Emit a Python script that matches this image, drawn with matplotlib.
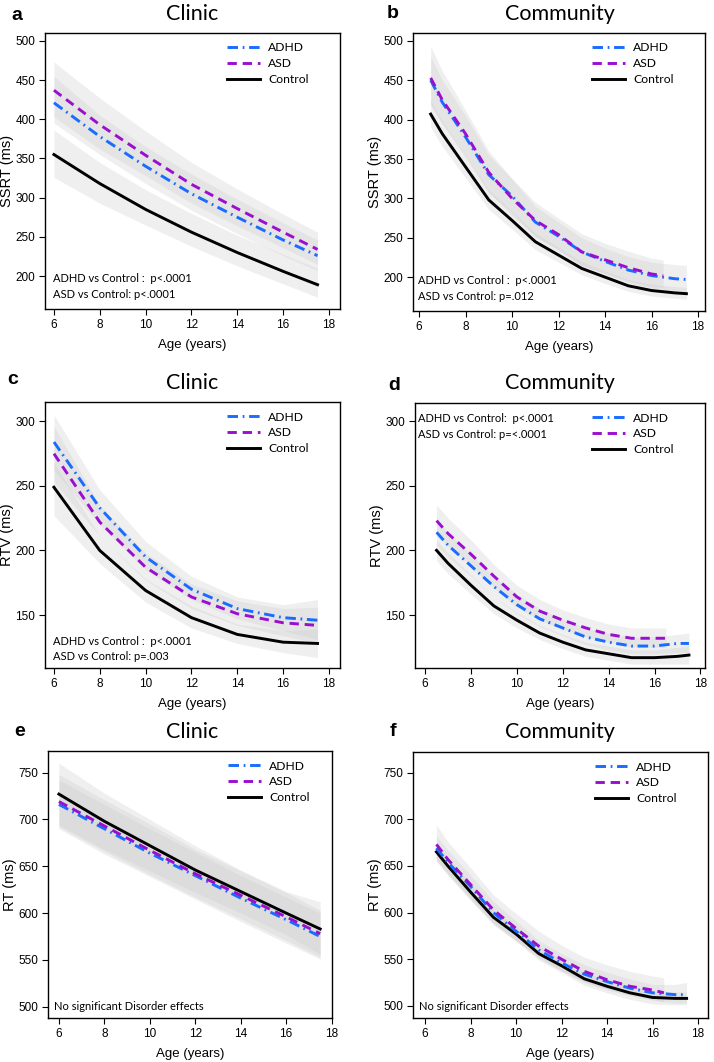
import matplotlib.pyplot as plt
import numpy as np

# ages
age_clinic = [6, 8, 10, 12, 14, 16, 17.5]
age_comm = [6.5, 7, 8, 9, 10, 11, 12, 13, 14, 15, 16, 17, 17.5]
age_comm_asd = [6.5, 7, 8, 9, 10, 11, 12, 13, 14, 15, 16, 16.5]

# a: SSRT clinic
ssrt_cl_ctrl = [355, 318, 285, 256, 230, 206, 189]
ssrt_cl_ctrl_lo = [326, 293, 265, 238, 213, 190, 173]
ssrt_cl_ctrl_hi = [386, 345, 310, 280, 252, 228, 210]
ssrt_cl_adhd = [421, 378, 340, 305, 275, 246, 226]
ssrt_cl_adhd_lo = [395, 355, 318, 284, 254, 226, 207]
ssrt_cl_adhd_hi = [455, 405, 365, 330, 298, 268, 246]
ssrt_cl_asd = [437, 393, 354, 317, 286, 256, 234]
ssrt_cl_asd_lo = [403, 362, 328, 293, 264, 236, 215]
ssrt_cl_asd_hi = [473, 427, 385, 345, 311, 279, 256]

# b: SSRT community
ssrt_co_ctrl = [407, 382, 340, 298, 272, 245, 228, 211, 200, 189, 183, 180, 179]
ssrt_co_ctrl_lo = [390, 366, 326, 286, 261, 235, 219, 203, 192, 182, 176, 173, 172]
ssrt_co_ctrl_hi = [425, 398, 355, 311, 284, 256, 238, 220, 208, 197, 191, 188, 187]
ssrt_co_adhd = [450, 422, 378, 330, 303, 270, 252, 232, 220, 209, 202, 198, 197]
ssrt_co_adhd_lo = [420, 395, 352, 307, 282, 251, 234, 215, 204, 193, 186, 181, 180]
ssrt_co_adhd_hi = [480, 450, 405, 355, 325, 290, 270, 250, 237, 226, 219, 216, 215]
ssrt_co_asd = [453, 425, 382, 333, 300, 272, 254, 232, 222, 212, 204, 202]
ssrt_co_asd_lo = [418, 395, 355, 308, 278, 252, 235, 214, 205, 195, 188, 187]
ssrt_co_asd_hi = [493, 462, 412, 360, 325, 295, 275, 255, 243, 233, 224, 222]

# c: RTV clinic
rtv_cl_ctrl = [249, 200, 169, 148, 135, 129, 128]
rtv_cl_ctrl_lo = [227, 190, 160, 140, 128, 121, 117]
rtv_cl_ctrl_hi = [268, 211, 178, 157, 143, 138, 139]
rtv_cl_adhd = [284, 233, 195, 170, 155, 148, 146]
rtv_cl_adhd_lo = [262, 220, 185, 162, 147, 138, 131]
rtv_cl_adhd_hi = [305, 247, 207, 180, 164, 158, 162]
rtv_cl_asd = [275, 222, 187, 164, 151, 144, 142]
rtv_cl_asd_lo = [253, 211, 177, 155, 142, 134, 128]
rtv_cl_asd_hi = [296, 235, 198, 174, 161, 155, 156]

# d: RTV community
rtv_co_ctrl = [200, 190, 173, 157, 146, 136, 129, 123, 120, 117, 117, 118, 119]
rtv_co_ctrl_lo = [192, 182, 166, 151, 140, 131, 124, 118, 115, 112, 112, 112, 112]
rtv_co_ctrl_hi = [208, 198, 181, 164, 152, 142, 135, 129, 126, 123, 123, 125, 126]
rtv_co_adhd = [214, 204, 188, 172, 158, 147, 140, 133, 129, 126, 126, 128, 128]
rtv_co_adhd_lo = [204, 195, 180, 164, 151, 141, 134, 127, 123, 120, 120, 121, 121]
rtv_co_adhd_hi = [224, 214, 197, 180, 166, 155, 147, 140, 136, 133, 133, 135, 136]
rtv_co_asd = [223, 213, 197, 180, 164, 153, 146, 140, 135, 132, 132, 132]
rtv_co_asd_lo = [212, 203, 188, 171, 156, 146, 139, 133, 129, 125, 125, 125]
rtv_co_asd_hi = [235, 225, 208, 189, 173, 162, 154, 148, 143, 140, 140, 140]

# e: RT clinic
rt_cl_ctrl = [727, 698, 672, 646, 623, 600, 583]
rt_cl_ctrl_lo = [694, 668, 645, 622, 600, 577, 556]
rt_cl_ctrl_hi = [760, 728, 700, 672, 646, 623, 612]
rt_cl_adhd = [716, 690, 664, 640, 616, 593, 575]
rt_cl_adhd_lo = [690, 663, 639, 615, 591, 568, 551]
rt_cl_adhd_hi = [742, 716, 690, 665, 640, 617, 600]
rt_cl_asd = [719, 693, 667, 642, 619, 596, 578]
rt_cl_asd_lo = [692, 666, 641, 617, 594, 571, 553]
rt_cl_asd_hi = [748, 721, 695, 668, 645, 622, 603]

# f: RT community
rt_co_ctrl = [665, 650, 622, 595, 577, 556, 543, 529, 521, 514, 509, 508, 508]
rt_co_ctrl_lo = [656, 641, 613, 587, 569, 549, 536, 522, 514, 507, 502, 501, 501]
rt_co_ctrl_hi = [675, 659, 631, 603, 585, 564, 550, 536, 528, 521, 516, 515, 515]
rt_co_adhd = [669, 654, 628, 600, 580, 560, 546, 534, 526, 519, 514, 512, 512]
rt_co_adhd_lo = [656, 642, 616, 589, 570, 551, 537, 525, 517, 511, 506, 503, 503]
rt_co_adhd_hi = [682, 667, 640, 612, 591, 570, 556, 544, 536, 529, 523, 523, 525]
rt_co_asd = [673, 657, 630, 603, 583, 564, 550, 537, 528, 521, 517, 514]
rt_co_asd_lo = [655, 640, 614, 588, 570, 552, 538, 526, 518, 512, 507, 504]
rt_co_asd_hi = [694, 676, 648, 619, 599, 580, 565, 552, 544, 537, 532, 530]

W, H = 714, 1062
fig = plt.figure(figsize=(W / 100, H / 100), dpi=100)

TICKFONT = 'Liberation Sans'
TEXTFONT = 'Lato'
c_adhd = '#1a6cff'
c_asd = '#9a0fcf'
band = '#cccccc'


def px_axes(left, top, right, bottom):
    return fig.add_axes([left / W, 1 - bottom / H, (right - left) / W, (bottom - top) / H])


def draw_panel(box, xlim, ylim, yticks, ylabel, ages, ages_asd, ctrl, adhd, asd,
               letter, letter_xy, title, title_xy, notes, note_xy, legend_anchor):
    ax = px_axes(*box)
    for (x, lo, hi) in [(ages, ctrl[1], ctrl[2]), (ages, adhd[1], adhd[2]), (ages_asd, asd[1], asd[2])]:
        ax.fill_between(x, lo, hi, color=band, alpha=0.3, lw=0, zorder=1)
    ax.plot(ages, adhd[0], color=c_adhd, lw=2.1, ls=(0, (3.6, 1.6, 0.6, 1.6)),
            label='ADHD', zorder=3, dash_capstyle='butt')
    ax.plot(ages_asd, asd[0], color=c_asd, lw=2.1, ls=(0, (3.2, 2.0)),
            label='ASD', zorder=3, dash_capstyle='butt')
    ax.plot(ages, ctrl[0], color='black', lw=2.1, label='Control', zorder=2)
    ax.set_xlim(*xlim)
    ax.set_ylim(*ylim)
    ax.set_xticks([6, 8, 10, 12, 14, 16, 18])
    ax.set_yticks(yticks)
    ax.tick_params(direction='out', length=4, width=0.8, labelsize=8.5, pad=3)
    for lab in ax.get_xticklabels() + ax.get_yticklabels():
        lab.set_fontfamily(TICKFONT)
    for s in ax.spines.values():
        s.set_linewidth(1.0)
    ax.set_xlabel('Age (years)', fontsize=9.5, family=TICKFONT, labelpad=6)
    ax.set_ylabel(ylabel, fontsize=10.5, family=TICKFONT, labelpad=1)
    ax.legend(loc='upper right', bbox_to_anchor=legend_anchor, frameon=False,
              handlelength=2.7, labelspacing=0.4, handletextpad=0.7,
              prop={'family': TEXTFONT, 'size': 8.7})
    for i, line in enumerate(notes):
        ax.text(note_xy[0], note_xy[1] - i * 0.057, line, transform=ax.transAxes,
                fontsize=8, family=TEXTFONT, va='center', ha='left')
    fig.text(letter_xy[0] / W, 1 - letter_xy[1] / H, letter, fontsize=14, fontweight='bold',
             family=TICKFONT, ha='center', va='center')
    fig.text(title_xy[0] / W, 1 - title_xy[1] / H, title, fontsize=15.5,
             family=TEXTFONT, ha='center', va='center')
    return ax


draw_panel((45, 33, 340, 309), (5.61, 18.48), (158, 510), [200, 250, 300, 350, 400, 450, 500],
           'SSRT (ms)', age_clinic, age_clinic,
           (ssrt_cl_ctrl, ssrt_cl_ctrl_lo, ssrt_cl_ctrl_hi),
           (ssrt_cl_adhd, ssrt_cl_adhd_lo, ssrt_cl_adhd_hi),
           (ssrt_cl_asd, ssrt_cl_asd_lo, ssrt_cl_asd_hi),
           'a', (17, 15), 'Clinic', (192, 14),
           ['ADHD vs Control :  p<.0001', 'ASD vs Control: p<.0001'], (0.027, 0.109), (0.93, 1.005))

draw_panel((413, 33, 705, 311), (5.74, 18.3), (157, 510), [200, 250, 300, 350, 400, 450, 500],
           'SSRT (ms)', age_comm, age_comm_asd,
           (ssrt_co_ctrl, ssrt_co_ctrl_lo, ssrt_co_ctrl_hi),
           (ssrt_co_adhd, ssrt_co_adhd_lo, ssrt_co_adhd_hi),
           (ssrt_co_asd, ssrt_co_asd_lo, ssrt_co_asd_hi),
           'b', (393, 13), 'Community', (560, 14),
           ['ADHD vs Control :  p<.0001', 'ASD vs Control: p=.012'], (0.017, 0.109), (0.93, 1.005))

draw_panel((45, 402, 340, 668), (5.61, 18.48), (109, 315), [150, 200, 250, 300],
           'RTV (ms)', age_clinic, age_clinic,
           (rtv_cl_ctrl, rtv_cl_ctrl_lo, rtv_cl_ctrl_hi),
           (rtv_cl_adhd, rtv_cl_adhd_lo, rtv_cl_adhd_hi),
           (rtv_cl_asd, rtv_cl_asd_lo, rtv_cl_asd_hi),
           'c', (13, 380), 'Clinic', (192, 383),
           ['ADHD vs Control :  p<.0001', 'ASD vs Control: p=.003'], (0.027, 0.1), (0.93, 1.005))

draw_panel((415, 403, 705, 668), (5.56, 18.2), (109, 314), [150, 200, 250, 300],
           'RTV (ms)', age_comm, age_comm_asd,
           (rtv_co_ctrl, rtv_co_ctrl_lo, rtv_co_ctrl_hi),
           (rtv_co_adhd, rtv_co_adhd_lo, rtv_co_adhd_hi),
           (rtv_co_asd, rtv_co_asd_lo, rtv_co_asd_hi),
           'd', (394, 385), 'Community', (560, 383),
           ['ADHD vs Control:  p<.0001', 'ASD vs Control: p=<.0001'], (0.012, 0.94), (0.93, 1.005))

draw_panel((48, 751, 332, 1018), (5.52, 18.02), (488, 773), [500, 550, 600, 650, 700, 750],
           'RT (ms)', age_clinic, age_clinic,
           (rt_cl_ctrl, rt_cl_ctrl_lo, rt_cl_ctrl_hi),
           (rt_cl_adhd, rt_cl_adhd_lo, rt_cl_adhd_hi),
           (rt_cl_asd, rt_cl_asd_lo, rt_cl_asd_hi),
           'e', (20, 732), 'Clinic', (192, 732),
           ['No significant Disorder effects'], (0.02, 0.042), (0.96, 1.005))

draw_panel((413, 752, 708, 1018), (5.47, 18.44), (487, 772), [500, 550, 600, 650, 700, 750],
           'RT (ms)', age_comm, age_comm_asd,
           (rt_co_ctrl, rt_co_ctrl_lo, rt_co_ctrl_hi),
           (rt_co_adhd, rt_co_adhd_lo, rt_co_adhd_hi),
           (rt_co_asd, rt_co_asd_lo, rt_co_asd_hi),
           'f', (393, 732), 'Community', (560, 732),
           ['No significant Disorder effects'], (0.02, 0.042), (0.93, 1.005))

fig.savefig('out.png', dpi=100)
